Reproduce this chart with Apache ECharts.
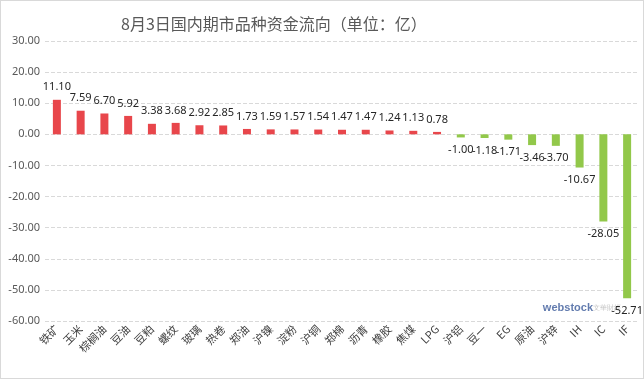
<!DOCTYPE html>
<html><head><meta charset="utf-8">
<script src="https://cdn.jsdelivr.net/npm/echarts@6/dist/echarts.min.js"></script>
<style>html,body{margin:0;padding:0;background:#fff}#c{width:644px;height:379px;box-sizing:border-box;border:1px solid #d9d9d9}</style>
</head><body><div id="c"></div>
<script>
const categories = ['铁矿','玉米','棕榈油','豆油','豆粕','螺纹','玻璃','热卷','郑油','沪镍','淀粉','沪铜','郑棉','沥青','橡胶','焦煤','LPG','沪铝','豆一','EG','原油','沪锌','IH','IC','IF'];
const values = [11.10,7.59,6.70,5.92,3.38,3.68,2.92,2.85,1.73,1.59,1.57,1.54,1.47,1.47,1.24,1.13,0.78,-1.00,-1.18,-1.71,-3.46,-3.70,-10.67,-28.05,-52.71];
const yTicks = {min:-60, max:30, interval:10};
const chart = echarts.init(document.getElementById('c'));
chart.setOption({
  animation:false,
  title:{text:'8月3日国内期市品种资金流向（单位：亿）',left:115,top:10,textStyle:{fontSize:16,fontWeight:'normal',color:'#595959',fontFamily:'Noto Sans CJK SC'}},
  grid:{left:44,right:4,top:40,bottom:57},
  xAxis:{type:'category',data:categories,axisLine:{show:false},axisTick:{show:false},
    axisLabel:{rotate:45,interval:0,color:'#404040',fontSize:11,margin:6,fontFamily:'Noto Sans CJK SC'}},
  yAxis:{type:'value',min:yTicks.min,max:yTicks.max,interval:yTicks.interval,
    axisLabel:{formatter:v=>v.toFixed(2),color:'#595959',fontSize:11,margin:5,fontFamily:'Noto Sans, sans-serif'},
    axisLine:{show:false},axisTick:{show:false},
    splitLine:{lineStyle:{type:'dashed',color:'#d9d9d9'}}},
  series:[{type:'bar',barWidth:8,
    data:values.map(v=>({value:v,itemStyle:{color:v>=0?'#E8464B':'#92C84A'},
      label:{show:true,position:v>=0?'top':'bottom',distance:7,formatter:v.toFixed(2),color:'#262626',fontSize:11,fontFamily:'Noto Sans, sans-serif'}}))}],
  graphic:[{type:'text',right:50,bottom:65,style:{text:'webstock',fill:'#3b5a9a',font:'bold 11px sans-serif',opacity:0.8}},
           {type:'text',right:22,bottom:66,style:{text:'文華財經',fill:'#999',font:'7px sans-serif',opacity:0.6}}]
});
</script></body></html>
